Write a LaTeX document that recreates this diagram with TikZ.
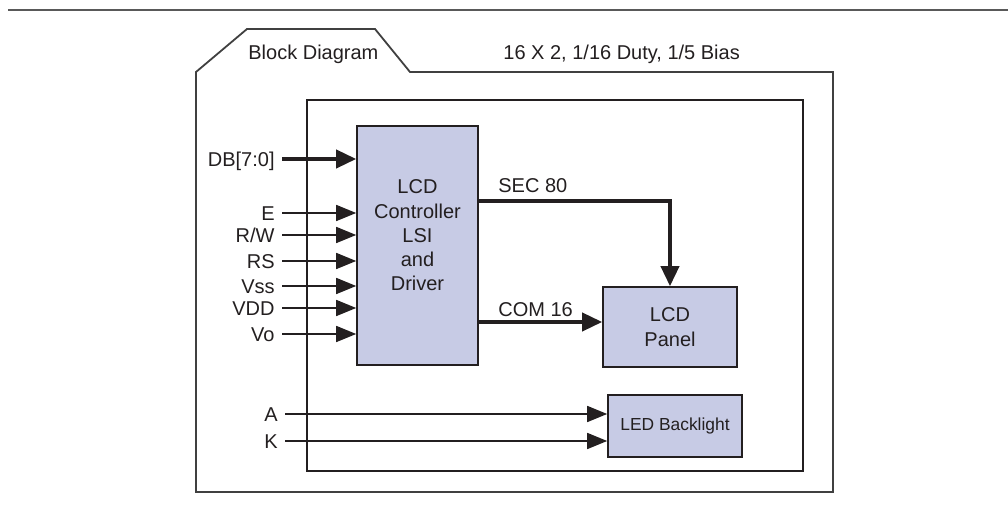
\documentclass[tikz,border=0pt]{standalone}
\usepackage{fontspec}
\setmainfont{Liberation Sans}
\usetikzlibrary{arrows.meta}
\definecolor{lcdblue}{RGB}{199,203,229}
\definecolor{ink}{RGB}{35,31,32}
\tikzset{
  blk/.style={draw=ink, fill=lcdblue, line width=0.8pt, inner sep=0pt},
  sig/.style={draw=ink, line width=0.75pt, -{Triangle[length=10pt,width=8pt]}},
  bus/.style={draw=ink, line width=1.9pt, -{Triangle[length=10pt,width=9pt]}},
  pin/.style={anchor=east, inner sep=3.5pt, text height=7.2pt, text depth=0pt},
  lbl/.style={anchor=base west, inner sep=0pt}
}
\begin{document}
\begin{tikzpicture}[x=0.5pt, y=-0.5pt, font=\fontsize{10pt}{12pt}\selectfont, text=ink]
    \useasboundingbox (0,0) rectangle (1008,506);
    \draw[black!65, line width=1pt] (8,10) -- (1008,10);
    \draw[black!75, line width=0.9pt] (196,492) -- (196,72) -- (247,29) -- (375,29) -- (410,72) -- (833,72) -- (833,492) -- cycle;
    \draw[ink, line width=0.75pt] (307,100) rectangle (803,471);
    \node[lbl] (tab) at (248,60) {Block Diagram};
    \node[lbl] (spec) at (503,60) {16 X 2, 1/16 Duty, 1/5 Bias};

    \node[blk, minimum width=60.5pt, minimum height=119.5pt] (ctrl) at (417.5,245.5) {};
    \node[align=center, font=\fontsize{10pt}{12.15pt}\selectfont] (ctrltxt) at (417.5,235.5) {LCD\\Controller\\LSI\\and\\Driver};
    \node[blk, minimum width=67pt, minimum height=40pt, align=center, font=\fontsize{10pt}{12.5pt}\selectfont] (panel) at (670,327) {LCD\\Panel};
    \node[blk, minimum width=67pt, minimum height=31pt, font=\fontsize{8.7pt}{10pt}\selectfont] (led) at (675,426) {LED Backlight};

    \node[pin] (db) at (282,159) {DB[7:0]};
    \node[pin] (pe) at (282,213) {E};
    \node[pin] (prw) at (282,235) {R/W};
    \node[pin] (prs) at (282,261) {RS};
    \node[pin] (pvss) at (282,286) {Vss};
    \node[pin] (pvdd) at (282,308) {VDD};
    \node[pin] (pvo) at (282,334) {Vo};
    \node[pin] (pa) at (285,414) {A};
    \node[pin] (pk) at (285,441) {K};

    \draw[bus] (db.east) -- (db.east -| ctrl.west);
    \draw[sig] (pe.east) -- (pe.east -| ctrl.west);
    \draw[sig] (prw.east) -- (prw.east -| ctrl.west);
    \draw[sig] (prs.east) -- (prs.east -| ctrl.west);
    \draw[sig] (pvss.east) -- (pvss.east -| ctrl.west);
    \draw[sig] (pvdd.east) -- (pvdd.east -| ctrl.west);
    \draw[sig] (pvo.east) -- (pvo.east -| ctrl.west);
    \draw[sig] (pa.east) -- (pa.east -| led.west);
    \draw[sig] (pk.east) -- (pk.east -| led.west);

    \draw[bus] ([yshift=22.25pt]ctrl.east) -| (panel.north);
    \coordinate (comin) at ([yshift=2.5pt]panel.west);
    \draw[bus] (ctrl.east |- comin) -- (comin);
    \node[lbl] (sec) at (498,193) {SEC 80};
    \node[lbl] (com) at (498,317) {COM 16};
\end{tikzpicture}
\end{document}
